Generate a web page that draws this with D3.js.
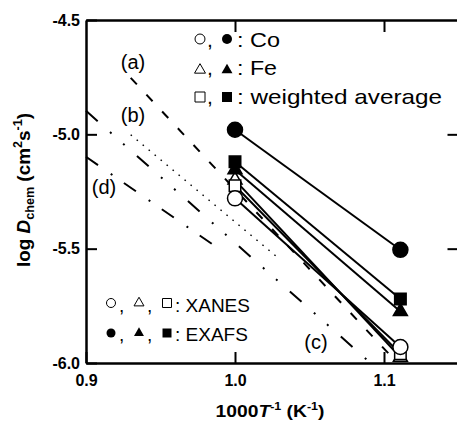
<!DOCTYPE html>
<html>
<head>
<meta charset="utf-8">
<script src="https://cdn.jsdelivr.net/npm/d3@7"></script>
<style>
  body { margin: 0; background: #fff; }
  svg { display: block; }
  text { font-family: "Liberation Sans", Arial, sans-serif; fill: #000; }
</style>
</head>
<body>
<div id="chart"></div>
<script>
// 1000/T values of the two measurements
const invT = [1.0, 1.111];

// log D_chem (XANES = open, EXAFS = filled)
const coXanes = [-5.28, -5.93];
const feXanes = [-5.20, -5.975];
const avgXanes = [-5.225, -5.96];
const coExafs = [-4.98, -5.505];
const feExafs = [-5.155, -5.775];
const avgExafs = [-5.12, -5.72];

// reference lines (a)-(d), [1000/T, log D] end points
const lineA = [[0.930, -4.753], [1.109, -6.0]];
const lineB = [[0.930, -5.002], [1.028, -5.535]];
const lineC = [[0.900, -4.897], [1.091, -6.0]];
const lineD = [[0.900, -5.098], [0.992, -5.513]];

const xTicks = [0.9, 1.0, 1.1];
const yTicks = [-4.5, -5.0, -5.5, -6.0];

const W = 457, H = 421;
const svg = d3.select("#chart").append("svg")
    .attr("width", W)
    .attr("height", H);

const x = d3.scaleLinear().domain([0.9, 1.15]).range([86, 458.5]);
const y = d3.scaleLinear().domain([-6.0, -4.5]).range([363, 20]);

// reference lines first, so the data sits on top
const refLines = [
    {pts: lineA, dash: "9,14", w: 2},
    {pts: lineB, dash: "1.5,6.3", w: 1.5},
    {pts: lineC, dash: "15.6,16.5,2,15.5,2,16.5", w: 2},
    {pts: lineD, dash: "14.6,15.5,2,14", w: 2}
];
const line = d3.line().x(d => x(d[0])).y(d => y(d[1]));
svg.append("g").selectAll("path")
    .data(refLines)
    .join("path")
    .attr("d", d => line(d.pts))
    .attr("fill", "none")
    .attr("stroke", "#000")
    .attr("stroke-width", d => d.w)
    .attr("stroke-dasharray", d => d.dash);

// labels of the reference lines
const refLabels = [
    {t: "(a)", x: 133, y: 69},
    {t: "(b)", x: 133, y: 122},
    {t: "(d)", x: 104, y: 194},
    {t: "(c)", x: 316, y: 349}
];
svg.append("g").selectAll("text")
    .data(refLabels)
    .join("text")
    .attr("x", d => d.x)
    .attr("y", d => d.y)
    .attr("text-anchor", "middle")
    .attr("font-size", 20)
    .text(d => d.t);

// data series
const series = [
    {values: feXanes, shape: d3.symbolTriangle, size: 85, filled: false},
    {values: avgXanes, shape: d3.symbolSquare, size: 132, filled: false},
    {values: coXanes, shape: d3.symbolCircle, size: 177, filled: false},
    {values: feExafs, shape: d3.symbolTriangle, size: 85, filled: true},
    {values: avgExafs, shape: d3.symbolSquare, size: 132, filled: true},
    {values: coExafs, shape: d3.symbolCircle, size: 177, filled: true}
];

const dataLine = d3.line().x((d, i) => x(invT[i])).y(d => y(d));
svg.append("g").selectAll("path")
    .data(series)
    .join("path")
    .attr("d", d => dataLine(d.values))
    .attr("fill", "none")
    .attr("stroke", "#000")
    .attr("stroke-width", 2);

const marks = svg.append("g");
series.forEach(s => {
    marks.selectAll(null)
        .data(s.values)
        .join("path")
        .attr("transform", (d, i) => `translate(${x(invT[i])},${y(d)})`)
        .attr("d", d3.symbol().type(s.shape).size(s.size))
        .attr("fill", s.filled ? "#000" : "#fff")
        .attr("stroke", "#000")
        .attr("stroke-width", 1.5);
});

// axes
const fmt = d => d.toFixed(1);
const axisStyle = g => {
    g.select(".domain").attr("stroke-width", 2.5);
    g.selectAll(".tick line").attr("stroke-width", 2);
    g.selectAll(".tick text")
        .attr("font-family", "'Liberation Sans', Arial, sans-serif")
        .attr("font-weight", "bold")
        .attr("font-size", 16);
};

svg.append("g")
    .attr("transform", "translate(86,0)")
    .call(d3.axisLeft(y).tickValues(yTicks).tickFormat(fmt).tickSize(-11).tickSizeOuter(0).tickPadding(6))
    .call(axisStyle);

svg.append("g")
    .attr("transform", "translate(0,363)")
    .call(d3.axisBottom(x).tickValues(xTicks).tickFormat(fmt).tickSize(-11).tickSizeOuter(0).tickPadding(12))
    .call(axisStyle);

svg.append("g")
    .attr("transform", "translate(0,20)")
    .call(d3.axisTop(x).tickValues([1.0, 1.1]).tickFormat("").tickSize(-12).tickSizeOuter(0))
    .call(axisStyle);

svg.append("g")
    .attr("transform", `translate(${x(1.15)},0)`)
    .call(d3.axisRight(y).tickValues([-5.0, -5.5]).tickFormat("").tickSize(-11).tickSizeOuter(0))
    .call(axisStyle);

// axis titles
const xTitle = svg.append("text")
    .attr("x", 270)
    .attr("y", 417)
    .attr("text-anchor", "middle")
    .attr("font-weight", "bold")
    .attr("font-size", 17)
    .attr("textLength", 109)
    .attr("lengthAdjust", "spacingAndGlyphs");
xTitle.append("tspan").text("1000");
xTitle.append("tspan").attr("font-style", "italic").text("T");
xTitle.append("tspan").attr("font-size", 11).attr("dy", -7).text("-1");
xTitle.append("tspan").attr("dy", 7).text(" (K");
xTitle.append("tspan").attr("font-size", 11).attr("dy", -7).text("-1");
xTitle.append("tspan").attr("dy", 7).text(")");

const yTitle = svg.append("text")
    .attr("transform", "translate(30,190) rotate(-90)")
    .attr("text-anchor", "middle")
    .attr("font-weight", "bold")
    .attr("font-size", 18)
    .attr("textLength", 154)
    .attr("lengthAdjust", "spacingAndGlyphs");
yTitle.append("tspan").text("log ");
yTitle.append("tspan").attr("font-style", "italic").text("D");
yTitle.append("tspan").attr("font-size", 12).attr("dy", 4).text("chem");
yTitle.append("tspan").attr("dy", -4).text(" (cm");
yTitle.append("tspan").attr("font-size", 12).attr("dy", -8).text("2");
yTitle.append("tspan").attr("dy", 8).text("s");
yTitle.append("tspan").attr("font-size", 12).attr("dy", -8).text("-1");
yTitle.append("tspan").attr("dy", 8).text(")");

// legend, top right
const legendTop = [
    {shape: d3.symbolCircle, size: 78, label: ": Co", len: 43, cy: 39, base: 47},
    {shape: d3.symbolTriangle, size: 52, label: ": Fe", len: 40, cy: 70, base: 75},
    {shape: d3.symbolSquare, size: 100, label: ": weighted average", len: 205, cy: 97, base: 104}
];
const lt = svg.append("g");
legendTop.forEach(r => {
    lt.append("path")
        .attr("transform", `translate(200,${r.cy})`)
        .attr("d", d3.symbol().type(r.shape).size(r.size))
        .attr("fill", "#fff").attr("stroke", "#000").attr("stroke-width", 1);
    lt.append("text").attr("x", 207).attr("y", r.base).attr("font-size", 21).text(",");
    lt.append("path")
        .attr("transform", `translate(227,${r.cy})`)
        .attr("d", d3.symbol().type(r.shape).size(r.size))
        .attr("fill", "#000");
    lt.append("text")
        .attr("x", 237).attr("y", r.base)
        .attr("font-size", 21)
        .attr("textLength", r.len)
        .attr("lengthAdjust", "spacingAndGlyphs")
        .text(r.label);
});

// legend, bottom left
const legendShapes = [
    {shape: d3.symbolCircle, size: 64, cx: 111},
    {shape: d3.symbolTriangle, size: 43, cx: 139},
    {shape: d3.symbolSquare, size: 81, cx: 167}
];
const legendBottom = [
    {filled: false, label: ": XANES", cy: 303, base: 312},
    {filled: true, label: ": EXAFS", cy: 333, base: 341}
];
const lb = svg.append("g");
legendBottom.forEach(r => {
    legendShapes.forEach((s, i) => {
        lb.append("path")
            .attr("transform", `translate(${s.cx},${r.cy})`)
            .attr("d", d3.symbol().type(s.shape).size(s.size))
            .attr("fill", r.filled ? "#000" : "#fff")
            .attr("stroke", "#000")
            .attr("stroke-width", r.filled ? 0 : 1);
        if (i < 2) {
            lb.append("text").attr("x", s.cx + 8).attr("y", r.base).attr("font-size", 19).text(",");
        }
    });
    lb.append("text").attr("x", 175).attr("y", r.base).attr("font-size", 19).text(r.label);
});
</script>
</body>
</html>
